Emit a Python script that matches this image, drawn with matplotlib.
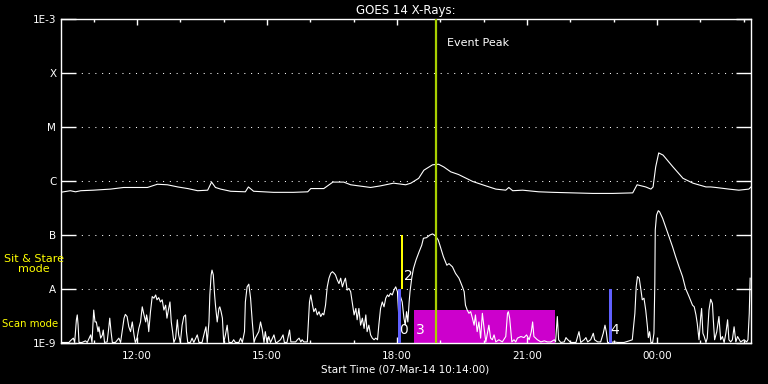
import matplotlib
matplotlib.use("Agg")
import numpy as np
import matplotlib.pyplot as plt
from matplotlib.ticker import NullLocator

# times are clock hours of 07-Mar-14 (values above 24 fall after midnight)
# fluxes are log10(W/m^2)
long_hours = [10.23, 10.46, 10.58, 10.70, 10.99, 11.39, 11.69, 12.24, 12.47, 12.70,
              12.94, 13.17, 13.40, 13.63, 13.72, 13.81, 13.93, 14.16, 14.50, 14.57,
              14.69, 15.15, 15.61, 15.94, 16.01, 16.31, 16.52, 16.77, 16.93, 17.39,
              17.62, 17.92, 18.20, 18.32, 18.50, 18.62, 18.82, 18.96, 19.08, 19.24,
              19.42, 19.75, 20.05, 20.28, 20.51, 20.58, 20.67, 20.90, 21.27, 21.60,
              22.06, 22.52, 22.98, 23.44, 23.54, 23.74, 23.86, 23.91, 23.97, 24.04,
              24.14, 24.37, 24.60, 24.83, 25.13, 25.24, 25.36, 25.66, 25.89, 26.12,
              26.17]
long_log_flux = [-6.21, -6.18, -6.20, -6.18, -6.17, -6.15, -6.12, -6.12, -6.06, -6.07,
                 -6.11, -6.14, -6.18, -6.17, -6.02, -6.12, -6.15, -6.19, -6.20, -6.11,
                 -6.19, -6.21, -6.21, -6.20, -6.14, -6.14, -6.02, -6.02, -6.07, -6.12,
                 -6.09, -6.04, -6.07, -6.04, -5.95, -5.80, -5.70, -5.69, -5.74, -5.83,
                 -5.88, -6.01, -6.09, -6.15, -6.17, -6.12, -6.18, -6.17, -6.20, -6.21,
                 -6.22, -6.23, -6.23, -6.22, -6.07, -6.11, -6.15, -6.11, -5.74, -5.48,
                 -5.52, -5.74, -5.95, -6.04, -6.11, -6.11, -6.12, -6.15, -6.17, -6.15,
                 -6.11]

short_hours = [
    10.23, 10.43, 10.46, 10.53, 10.56, 10.60, 10.62, 10.64, 10.66, 10.73,
    10.81, 10.85, 10.93, 10.96, 11.00, 11.03, 11.06, 11.10, 11.12, 11.16,
    11.20, 11.22, 11.25, 11.31, 11.35, 11.37, 11.40, 11.43, 11.50, 11.58,
    11.62, 11.70, 11.73, 11.77, 11.81, 11.85, 11.89, 11.93, 11.96, 12.00,
    12.04, 12.08, 12.12, 12.16, 12.20, 12.22, 12.25, 12.27, 12.31, 12.35,
    12.39, 12.43, 12.46, 12.50, 12.54, 12.58, 12.62, 12.66, 12.69, 12.73,
    12.76, 12.79, 12.82, 12.85, 12.89, 12.93, 12.96, 13.00, 13.04, 13.08,
    13.12, 13.14, 13.17, 13.23, 13.27, 13.31, 13.39, 13.43, 13.50, 13.56,
    13.59, 13.62, 13.66, 13.68, 13.71, 13.73, 13.76, 13.79, 13.81, 13.85,
    13.89, 13.91, 13.94, 13.97, 14.00, 14.04, 14.08, 14.12, 14.19, 14.23,
    14.27, 14.35, 14.39, 14.43, 14.48, 14.50, 14.54, 14.58, 14.62, 14.66,
    14.70, 14.73, 14.77, 14.81, 14.85, 14.89, 14.93, 14.96, 15.00, 15.04,
    15.08, 15.16, 15.20, 15.23, 15.31, 15.37, 15.40, 15.46, 15.52, 15.55,
    15.58, 15.66, 15.70, 15.74, 15.78, 15.81, 15.85, 15.93, 15.95, 15.98,
    16.01, 16.05, 16.08, 16.12, 16.16, 16.20, 16.24, 16.28, 16.31, 16.35,
    16.39, 16.43, 16.47, 16.51, 16.55, 16.58, 16.62, 16.66, 16.70, 16.74,
    16.78, 16.81, 16.85, 16.89, 16.93, 16.97, 17.01, 17.05, 17.08, 17.12,
    17.16, 17.20, 17.24, 17.28, 17.31, 17.35, 17.39, 17.43, 17.47, 17.51,
    17.55, 17.58, 17.62, 17.66, 17.70, 17.74, 17.78, 17.81, 17.85, 17.89,
    17.93, 17.97, 18.01, 18.04, 18.08, 18.12, 18.16, 18.19, 18.22, 18.25,
    18.28, 18.30, 18.34, 18.38, 18.44, 18.51, 18.57, 18.61, 18.68, 18.76,
    18.82, 18.88, 18.95, 18.99, 19.07, 19.15, 19.20, 19.28, 19.35, 19.43,
    19.51, 19.55, 19.58, 19.62, 19.66, 19.70, 19.74, 19.78, 19.81, 19.85,
    19.89, 19.93, 19.97, 20.01, 20.05, 20.08, 20.12, 20.16, 20.20, 20.24,
    20.28, 20.35, 20.43, 20.51, 20.55, 20.57, 20.60, 20.65, 20.70, 20.74,
    20.78, 20.86, 20.93, 20.99, 21.05, 21.10, 21.13, 21.16, 21.24, 21.32,
    21.40, 21.47, 21.55, 21.63, 21.66, 21.70, 21.73, 21.78, 21.86, 21.90,
    21.93, 22.01, 22.13, 22.20, 22.24, 22.32, 22.36, 22.40, 22.47, 22.53,
    22.56, 22.63, 22.70, 22.76, 22.80, 22.83, 22.86, 22.93, 23.01, 23.09,
    23.24, 23.36, 23.43, 23.49, 23.52, 23.55, 23.59, 23.63, 23.66, 23.70,
    23.74, 23.78, 23.80, 23.83, 23.86, 23.90, 23.93, 23.95, 23.96, 23.99,
    24.03, 24.06, 24.13, 24.20, 24.28, 24.36, 24.43, 24.51, 24.59, 24.66,
    24.74, 24.82, 24.86, 24.90, 24.93, 24.97, 25.01, 25.03, 25.06, 25.09,
    25.13, 25.16, 25.20, 25.24, 25.28, 25.30, 25.33, 25.38, 25.43, 25.47,
    25.51, 25.55, 25.59, 25.63, 25.66, 25.70, 25.74, 25.78, 25.82, 25.86,
    25.93, 26.01, 26.07, 26.10, 26.13, 26.15]
short_log_flux = [
    -8.99, -8.99, -8.96, -8.91, -8.99, -8.57, -8.48, -8.67, -8.99, -8.99,
    -8.96, -8.99, -8.85, -8.99, -8.39, -8.61, -8.61, -8.79, -8.70, -8.91,
    -8.85, -8.76, -8.99, -8.98, -8.70, -8.54, -8.79, -8.99, -8.99, -8.91,
    -8.99, -8.54, -8.47, -8.51, -8.70, -8.79, -8.61, -8.85, -8.99, -8.91,
    -8.73, -8.61, -8.33, -8.48, -8.61, -8.48, -8.61, -8.79, -8.42, -8.14,
    -8.17, -8.11, -8.20, -8.16, -8.24, -8.20, -8.39, -8.30, -8.54, -8.36,
    -8.24, -8.61, -8.79, -8.99, -8.91, -8.57, -8.85, -8.99, -8.67, -8.51,
    -8.48, -8.79, -8.99, -8.99, -8.91, -8.99, -8.85, -8.99, -8.99, -8.79,
    -8.70, -8.99, -8.61, -8.11, -7.74, -7.65, -7.74, -8.11, -8.30, -8.61,
    -8.36, -8.33, -8.42, -8.54, -8.99, -8.85, -8.67, -8.99, -8.99, -8.94,
    -8.99, -8.99, -8.91, -8.99, -8.79, -8.24, -7.96, -7.91, -8.17, -8.61,
    -8.99, -8.91, -8.85, -8.79, -8.61, -8.76, -8.99, -8.79, -8.99, -8.88,
    -8.99, -8.85, -8.99, -8.99, -8.94, -8.85, -8.99, -8.99, -8.76, -8.98,
    -8.98, -8.98, -8.94, -8.91, -8.98, -8.94, -8.98, -8.98, -8.67, -8.24,
    -8.11, -8.30, -8.42, -8.36, -8.48, -8.42, -8.51, -8.45, -8.48, -8.30,
    -7.96, -7.80, -7.71, -7.68, -7.71, -7.74, -7.83, -7.90, -7.80, -7.96,
    -7.86, -7.80, -8.02, -7.99, -8.05, -8.27, -8.48, -8.36, -8.57, -8.36,
    -8.67, -8.54, -8.73, -8.48, -8.79, -8.67, -8.85, -8.91, -8.94, -8.91,
    -8.94, -8.67, -8.36, -8.24, -8.33, -8.17, -8.11, -8.14, -8.08, -8.11,
    -8.02, -7.96, -8.05, -8.50, -8.14, -8.24, -8.54, -8.67, -8.42, -8.61,
    -8.24, -8.05, -7.80, -7.62, -7.46, -7.31, -7.19, -7.06, -7.05, -7.00,
    -6.98, -7.01, -7.09, -7.19, -7.40, -7.56, -7.53, -7.59, -7.71, -7.80,
    -7.96, -8.05, -8.30, -8.39, -8.45, -8.42, -8.54, -8.67, -8.48, -8.79,
    -8.61, -8.91, -8.45, -8.73, -8.98, -8.85, -8.67, -8.91, -8.94, -8.85,
    -8.98, -8.94, -8.98, -8.88, -8.45, -8.42, -8.54, -8.98, -8.94, -8.98,
    -8.91, -8.88, -8.90, -8.85, -8.94, -8.79, -8.61, -8.88, -8.94, -8.98,
    -8.96, -8.98, -8.98, -8.94, -8.98, -8.51, -8.94, -8.99, -8.98, -8.90,
    -8.93, -8.99, -8.99, -8.79, -8.99, -8.94, -8.90, -8.98, -8.94, -8.82,
    -8.94, -8.98, -8.98, -8.82, -8.67, -8.79, -8.99, -8.99, -8.98, -8.99,
    -8.99, -8.96, -8.94, -8.45, -7.96, -7.77, -7.80, -8.02, -8.20, -8.17,
    -8.39, -8.70, -8.90, -8.79, -8.99, -8.99, -8.82, -7.90, -6.91, -6.63,
    -6.55, -6.57, -6.69, -6.85, -7.03, -7.22, -7.40, -7.59, -7.77, -7.99,
    -8.14, -8.30, -8.33, -8.48, -8.64, -8.94, -8.51, -8.36, -8.82, -8.88,
    -8.99, -8.91, -8.39, -8.19, -8.27, -8.57, -8.94, -8.79, -8.51, -8.94,
    -8.88, -8.99, -8.82, -8.57, -8.94, -8.98, -8.94, -8.70, -8.98, -8.88,
    -8.98, -8.94, -8.98, -8.94, -8.45, -7.80]

flux_levels = [1e-9, 1e-8, 1e-7, 1e-6, 1e-5, 1e-4, 1e-3]
flux_labels = ["1E-9", "A", "B", "C", "M", "X", "1E-3"]
time_ticks = [12, 15, 18, 21, 24]
time_labels = ["12:00", "15:00", "18:00", "21:00", "00:00"]
start_hour = 10 + 14 / 60.
end_hour = 26.17
event_peak_hour = 18.89

# IRIS observations: time span, flux span (W/m^2) and number
obs_start = [18.015, 18.09, 18.40, 22.89]
obs_end = [18.09, 18.145, 21.65, 22.96]
obs_low = [1e-9, 1e-8, 1e-9, 1e-9]
obs_high = [1e-8, 1e-7, 4.1e-9, 1e-8]
obs_labels = ["0", "2", "3", "4"]


def draw_observations(ax):
    colors = ["#6060ff", "#ffff00", "#cc00cc", "#6060ff"]
    zorders = [3, 3, 1, 3]
    for i in range(len(obs_labels)):
        ax.fill_between([obs_start[i], obs_end[i]], obs_low[i], obs_high[i],
                        color=colors[i], linewidth=0, zorder=zorders[i])
        xtext = obs_start[i] + 0.04 if obs_labels[i] != "2" else obs_end[i] + 0.01
        ax.text(xtext, obs_low[i] * 1.75, obs_labels[i], color="white", fontsize=10,
                ha="left", va="center", zorder=5)


def main():
    fig = plt.figure(figsize=(7.68, 3.84), dpi=100, facecolor="black")
    ax = fig.add_axes([60.5 / 768, 1 - 343 / 384., 690.5 / 768, 324 / 384.])
    ax.set_facecolor("black")
    ax.set_yscale("log")
    ax.set_xlim(start_hour, end_hour)
    ax.set_ylim(flux_levels[0], flux_levels[-1])

    for level in flux_levels[1:-1]:
        ax.axhline(level, color="white", linewidth=0.75, linestyle=(0, (1, 5.5)), zorder=0)

    ax.plot(long_hours, 10 ** np.array(long_log_flux), color="white", linewidth=0.8, zorder=2)
    ax.plot(short_hours, 10 ** np.array(short_log_flux), color="white", linewidth=0.8, zorder=2)

    draw_observations(ax)

    ax.axvline(event_peak_hour, color="#a8d000", linewidth=1.6, zorder=4)
    ax.text(event_peak_hour + 0.26, 3.6e-4, "Event Peak", color="white", fontsize=8,
            ha="left", va="center")

    ax.set_yticks(flux_levels)
    ax.set_yticklabels(flux_labels)
    ax.yaxis.set_minor_locator(NullLocator())
    ax.set_xticks(time_ticks)
    ax.set_xticklabels(time_labels)
    ax.set_xticks(range(11, 27), minor=True)
    ax.tick_params(axis="y", which="major", direction="in", length=11, width=1,
                   left=True, right=True, colors="white", labelsize=7.5, pad=3)
    ax.tick_params(axis="x", which="major", direction="in", length=4.5, width=1,
                   top=True, bottom=True, colors="white", labelsize=7.5, pad=6)
    ax.tick_params(axis="x", which="minor", direction="in", length=2.5, width=1,
                   top=True, bottom=True, colors="white")
    for spine in ax.spines.values():
        spine.set_color("white")
        spine.set_linewidth(1)

    ax.set_title("GOES 14 X-Rays:", color="white", fontsize=8.5, pad=3.5)
    fig.text(405 / 768, 1 - 369 / 384., "Start Time (07-Mar-14 10:14:00)", color="white",
             fontsize=7.5, ha="center", va="center")
    fig.text(34 / 768, 1 - 264 / 384., "Sit & Stare\nmode", color="#ffff00", fontsize=8,
             ha="center", va="center", linespacing=1.0)
    fig.text(2 / 768, 1 - 324 / 384., "Scan mode", color="#ffff00", fontsize=7.3,
             ha="left", va="center")

    fig.savefig("out.png", dpi=100, facecolor="black")


if __name__ == "__main__":
    main()
